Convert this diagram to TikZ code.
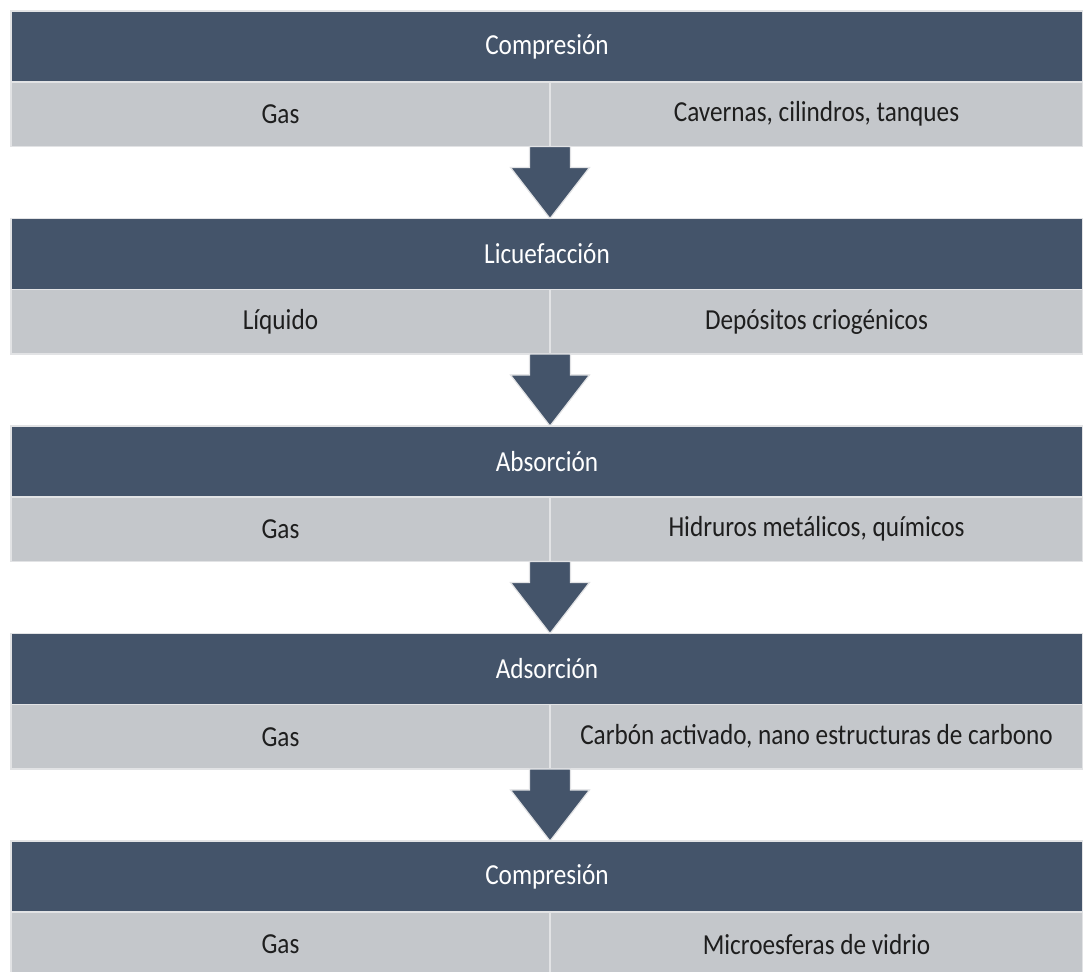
\documentclass[tikz,border=0pt]{standalone}
\usepackage{fontspec}
\setmainfont{Carlito}[FakeStretch=0.87]
\usepackage{tikz}
\usetikzlibrary{positioning}
\definecolor{slatebar}{HTML}{44546A}
\definecolor{cellgray}{HTML}{C4C7CB}
\definecolor{edgegray}{HTML}{E2E3E5}
\definecolor{inkgray}{HTML}{1E1E1E}

\begin{document}
\begin{tikzpicture}[
      x=0.5pt, y=-0.5pt,
      every node/.style={inner sep=0pt, outer sep=0pt, font=\fontsize{14.5}{16}\selectfont},
      header/.style={rectangle, fill=slatebar, draw=edgegray, line width=0.8pt, text=white, minimum width=536pt, minimum height=35.5pt, anchor=north west},
      leftcell/.style={rectangle, fill=cellgray, draw=edgegray, line width=0.8pt, text=inkgray, minimum width=269.5pt, minimum height=32.25pt, anchor=north west},
      rightcell/.style={rectangle, fill=cellgray, draw=edgegray, line width=0.8pt, text=inkgray, minimum width=266.5pt, minimum height=32.25pt, anchor=north west},
      flow/.style={fill=slatebar, draw=edgegray, line width=0.6pt, line join=miter}
  ]
      \useasboundingbox (0,0) rectangle (1083,972);

      % Block 1
      \node[header] (h1) at (11, 11) {Compresión};
      \node[leftcell, below=0pt of h1.south west, anchor=north west] (l1) {Gas};
      \node[rightcell, right=0pt of l1] (r1) {Cavernas, cilindros, tanques};

      % Block 2
      \node[header] (h2) at (11, 218.5) {Licuefacción};
      \node[leftcell, below=0pt of h2.south west, anchor=north west] (l2) {Líquido};
      \node[rightcell, right=0pt of l2] (r2) {Depósitos criogénicos};

      % Block 3
      \node[header] (h3) at (11, 426) {Absorción};
      \node[leftcell, below=0pt of h3.south west, anchor=north west] (l3) {Gas};
      \node[rightcell, right=0pt of l3] (r3) {Hidruros metálicos, químicos};

      % Block 4
      \node[header] (h4) at (11, 633.5) {Adsorción};
      \node[leftcell, below=0pt of h4.south west, anchor=north west] (l4) {Gas};
      \node[rightcell, right=0pt of l4] (r4) {Carbón activado, nano estructuras de carbono};

      % Block 5
      \node[header] (h5) at (11, 841) {Compresión};
      \node[leftcell, below=0pt of h5.south west, anchor=north west] (l5) {Gas};
      \node[rightcell, right=0pt of l5] (r5) {Microesferas de vidrio};

      % Block arrows
      \draw[flow] (l1.south east) coordinate (a1) ++(-20.5,0) -- ++(41,0) -- ++(0,21) -- ++(19,0)
          -- (a1 |- h2.north) -- ++(-39.5,-51) -- ++(19,0) -- cycle;
      \draw[flow] (l2.south east) coordinate (a2) ++(-20.5,0) -- ++(41,0) -- ++(0,21) -- ++(19,0)
          -- (a2 |- h3.north) -- ++(-39.5,-51) -- ++(19,0) -- cycle;
      \draw[flow] (l3.south east) coordinate (a3) ++(-20.5,0) -- ++(41,0) -- ++(0,21) -- ++(19,0)
          -- (a3 |- h4.north) -- ++(-39.5,-51) -- ++(19,0) -- cycle;
      \draw[flow] (l4.south east) coordinate (a4) ++(-20.5,0) -- ++(41,0) -- ++(0,21) -- ++(19,0)
          -- (a4 |- h5.north) -- ++(-39.5,-51) -- ++(19,0) -- cycle;

  \end{tikzpicture}
\end{document}
